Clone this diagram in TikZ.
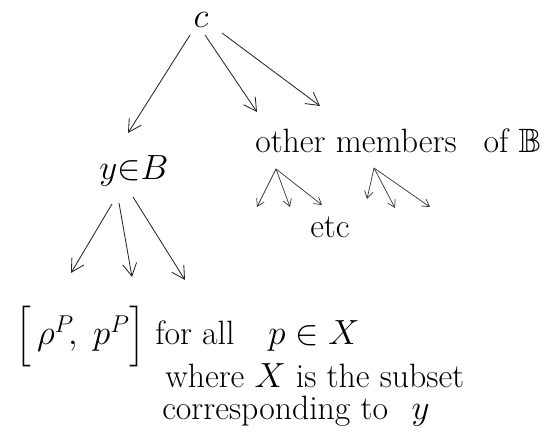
\documentclass[tikz,border=0pt]{standalone}
\usepackage{amsmath, amssymb}
\usepackage{tikz}
\usetikzlibrary{arrows.meta}
\tikzstyle{txt} = [inner sep=0pt, font=\fontsize{24}{28}\selectfont]
\tikzstyle{arrow} = [line width=0.6pt, draw=black!85, ->, >={Straight Barb[length=9pt, width=10pt]}]
\tikzstyle{subarrow} = [line width=0.5pt, draw=black!80, ->, >={Straight Barb[length=5pt, width=6pt]}]

\begin{document}
\begin{tikzpicture}[x=0.025cm, y=-0.025cm]
                \useasboundingbox (0,0) rectangle (560,444);

                \node (c) [txt] at (201,20) {$c$};
                \node (yB) [txt, anchor=base] at (134,180) {$y{\in}B$};
                \node (others) [txt, anchor=base west] at (255,153) {other members\hspace{0.8em}of $\mathbb{B}$};
                \node (etc) [txt, anchor=base west] at (310,238) {etc};

                \node (interval) [txt, anchor=base west] at (15,345) {$\Big[\,\rho^{P}\!,\; p^{P}\Big]$};
                \node (forall) [txt, anchor=base west] at (155,345) {for all\hspace{1em}$p\in X$};
                \node (where) [txt, anchor=base west] at (165,388) {where $X$ is the subset};
                \node (corr) [txt, anchor=base west] at (162,420) {corresponding to\hspace{0.7em}$y$};

% ---------------------------------------------
% Arrows out of c
% ---------------------------------------------
                \draw [arrow] ([shift={(-11,15)}]c.center) -- ([shift={(-6,-47)}]yB.base);
                \draw [arrow] ([shift={(4,15)}]c.center) -- ([shift={(2,-41)}]others.base west);
                \draw [arrow] ([shift={(21,13)}]c.center) -- ([shift={(65,-47)}]others.base west);

% ---------------------------------------------
% Arrows out of y in B
% ---------------------------------------------
                \draw [arrow] ([shift={(-22,24)}]yB.base) -- ([shift={(56,-72)}]interval.base west);
                \draw [arrow] ([shift={(-15,23)}]yB.base) -- ([shift={(117,-68)}]interval.base west);
                \draw [arrow] ([shift={(-1,17)}]yB.base) -- ([shift={(30,-65)}]forall.base west);

% ---------------------------------------------
% Small forks under the other members
% ---------------------------------------------
                \coordinate (fork1) at ([shift={(21,16)}]others.base west);
                \coordinate (fork2) at ([shift={(119,15)}]others.base west);
                \foreach \dx/\dy in {-19/38, 14/38, 46/36}
                    \draw [subarrow] (fork1) -- ++(\dx,\dy);
                \foreach \dx/\dy in {-7/31, 21/40, 56/39}
                    \draw [subarrow] (fork2) -- ++(\dx,\dy);

\end{tikzpicture}
\end{document}
